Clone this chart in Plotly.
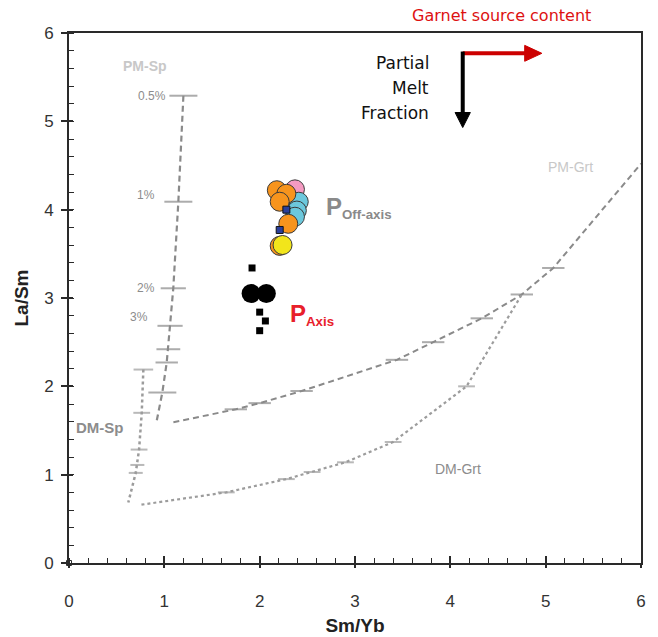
import plotly.graph_objects as go

# ---------------- data ----------------
# melting model curves (Sm/Yb, La/Sm)
pm_sp_x = [1.20, 1.147, 1.094, 1.06, 1.042, 1.025, 0.979, 0.92]
pm_sp_y = [5.29, 4.09, 3.11, 2.685, 2.42, 2.27, 1.93, 1.61]
pm_sp_pct = ["0.5%", "1%", "2%", "3%"]

dm_sp_x = [0.78, 0.763, 0.735, 0.717, 0.70, 0.622]
dm_sp_y = [2.19, 1.70, 1.284, 1.11, 1.02, 0.685]

pm_grt_x = [1.095, 1.75, 2.0, 2.44, 3.44, 3.82, 4.33, 4.75, 5.08, 6.0]
pm_grt_y = [1.594, 1.74, 1.81, 1.947, 2.30, 2.50, 2.77, 3.04, 3.34, 4.52]

dm_grt_x = [0.76, 1.65, 2.28, 2.55, 2.90, 3.40, 4.17, 4.75]
dm_grt_y = [0.66, 0.80, 0.95, 1.03, 1.14, 1.37, 2.00, 3.04]

# off-axis samples
off_pink_x = [2.37]
off_pink_y = [4.23]
off_blue_x = [2.41, 2.39, 2.37]
off_blue_y = [4.09, 3.99, 3.92]
off_orange_x = [2.18, 2.28, 2.21, 2.30, 2.21]
off_orange_y = [4.22, 4.18, 4.09, 3.84, 3.59]
off_yellow_x = [2.24]
off_yellow_y = [3.60]
off_sq_x = [2.28, 2.21]
off_sq_y = [4.00, 3.77]

# axis samples
axis_circ_x = [1.91, 2.07]
axis_circ_y = [3.05, 3.05]
axis_sq_x = [1.92, 2.00, 2.06, 2.00]
axis_sq_y = [3.34, 2.84, 2.74, 2.63]

x_ticks = [0, 1, 2, 3, 4, 5, 6]
y_ticks = [0, 1, 2, 3, 4, 5, 6]

# ---------------- figure ----------------
DASH_C = "#8a8a8a"
DOT_C = "#9c9c9c"
AX_C = "#2a2a2a"
NARROW = "Liberation Sans Narrow, Arial Narrow, Liberation Sans, Arial, sans-serif"
SANS = "Liberation Sans, Arial, sans-serif"
COMIC = "DejaVu Sans, sans-serif"

fig = go.Figure()


def curve(x, y, dash, color, width, sizes):
    return go.Scatter(
        x=x, y=y, mode="lines+markers",
        line=dict(color=color, width=width, dash=dash),
        marker=dict(symbol="line-ew", size=sizes, color=color,
                    line=dict(color=color, width=2)),
        showlegend=False, hoverinfo="skip",
    )


fig.add_trace(curve(pm_sp_x, pm_sp_y, "6px,4px", DASH_C, 2.2,
                    [20, 20, 18, 18, 17, 16, 20, 0]))
fig.add_trace(curve(dm_sp_x, dm_sp_y, "dot", DOT_C, 2.5,
                    [14, 12, 12, 10, 10, 0]))
fig.add_trace(curve(pm_grt_x, pm_grt_y, "6px,4px", DASH_C, 2.0,
                    [0] + [16] * (len(pm_grt_x) - 2) + [0]))
fig.add_trace(curve(dm_grt_x, dm_grt_y, "dot", DOT_C, 2.2,
                    [0] + [12] * (len(dm_grt_x) - 2) + [0]))

# tiny hollow square at origin
fig.add_trace(go.Scatter(x=[0], y=[0], mode="markers",
                         marker=dict(symbol="square-open", size=5, color=AX_C),
                         showlegend=False, hoverinfo="skip", cliponaxis=False))


def pts(x, y, color, size=19, symbol="circle", lc="#3a3a3a", lw=1):
    return go.Scatter(x=x, y=y, mode="markers",
                      marker=dict(symbol=symbol, size=size, color=color,
                                  line=dict(color=lc, width=lw)),
                      showlegend=False, hoverinfo="skip")


fig.add_trace(pts(off_pink_x, off_pink_y, "#f49ac1"))
fig.add_trace(pts(off_blue_x, off_blue_y, "#6cc8dc"))
fig.add_trace(pts(off_orange_x, off_orange_y, "#f7941d"))
fig.add_trace(pts(off_yellow_x, off_yellow_y, "#f2e51b"))
fig.add_trace(pts(off_sq_x, off_sq_y, "#2a3f9a", size=7, symbol="square", lc="#111", lw=1))

fig.add_trace(pts(axis_circ_x, axis_circ_y, "#000000", size=19, lc="#000", lw=0))
fig.add_trace(pts(axis_sq_x, axis_sq_y, "#000000", size=7, symbol="square", lc="#000", lw=0))

# empty trace for overlay axes (inside major ticks)
fig.add_trace(go.Scatter(x=[], y=[], xaxis="x2", yaxis="y2", showlegend=False))

ann = []


def label(x, y, text, color, size, bold=False, xanchor="center", family=SANS):
    ann.append(dict(x=x, y=y, xref="x", yref="y", text=("<b>%s</b>" % text) if bold else text,
                    showarrow=False, xanchor=xanchor, yanchor="middle",
                    font=dict(family=family, size=size, color=color)))


label(0.80, 5.63, "PM-Sp", "#c8c8c8", 14, True)
label(0.33, 1.53, "DM-Sp", "#8c8c8c", 15, True)
label(5.26, 4.48, "PM-Grt", "#c8c8c8", 14, False)
label(4.08, 1.06, "DM-Grt", "#8c8c8c", 14, False)

pct_pos = [(0.868, 5.29), (0.81, 4.17), (0.81, 3.11), (0.738, 2.78)]
for (px, py), s in zip(pct_pos, pm_sp_pct):
    label(px, py, s, "#8c8c8c", 12)

ann.append(dict(x=2.67, y=4.03, xref="x", yref="y", xanchor="left", yanchor="middle",
                text="<b><span style='font-size:24px'>P</span><sub>Off-axis</sub></b>",
                showarrow=False, font=dict(family=SANS, size=19, color="#8a8a8a")))
ann.append(dict(x=2.30, y=2.81, xref="x", yref="y", xanchor="left", yanchor="middle",
                text="<b><span style='font-size:24px'>P</span><sub>Axis</sub></b>",
                showarrow=False, font=dict(family=SANS, size=19, color="#e8202a")))

for txt, yy in zip(["Partial", "Melt", "Fraction"], [5.66, 5.38, 5.10]):
    ann.append(dict(x=3.80, y=yy, xref="x", yref="y", xanchor="right", yanchor="middle",
                    showarrow=False, text=txt,
                    font=dict(family=COMIC, size=17, color="#111111")))
ann.append(dict(x=4.54, y=6.0, xref="x", yref="y", xanchor="center", yanchor="bottom",
                yshift=6, showarrow=False, text="Garnet source content",
                font=dict(family=COMIC, size=16, color="#dd1111")))

# arrows drawn as shapes (shaft + head)
shapes = [
    dict(type="line", xref="x", yref="y", x0=4.13, y0=5.77, x1=4.80, y1=5.77,
         line=dict(color="#cc0000", width=4)),
    dict(type="path", xref="x", yref="y",
         path="M 4.78 5.86 L 4.96 5.77 L 4.78 5.68 Z",
         fillcolor="#cc0000", line=dict(color="#cc0000", width=1)),
    dict(type="line", xref="x", yref="y", x0=4.13, y0=5.79, x1=4.13, y1=5.08,
         line=dict(color="#000000", width=4)),
    dict(type="path", xref="x", yref="y",
         path="M 4.05 5.10 L 4.13 4.93 L 4.21 5.10 Z",
         fillcolor="#000000", line=dict(color="#000000", width=1)),
]

fig.update_layout(
    width=658, height=637,
    margin=dict(l=69, r=17, t=33, b=74),
    paper_bgcolor="white", plot_bgcolor="white",
    annotations=ann, shapes=shapes,
    xaxis=dict(range=[0, 6], tickvals=x_ticks, showgrid=False, zeroline=False,
               automargin=False,
               showline=True, linecolor=AX_C, linewidth=2, mirror=True,
               ticks="outside", ticklen=3, tickwidth=1.5, tickcolor=AX_C,
               minor=dict(dtick=0.2, ticks="inside", ticklen=5, tickwidth=1.3, tickcolor=AX_C),
               tickfont=dict(family=NARROW, size=17, color="#333"),
               ticklabelstandoff=19,
               title=dict(text="<b>Sm/Yb</b>", font=dict(family=NARROW, size=19, color="#222"),
                          standoff=8)),
    yaxis=dict(range=[0, 6], tickvals=y_ticks, showgrid=False, zeroline=False,
               automargin=False,
               showline=True, linecolor=AX_C, linewidth=2, mirror=True,
               ticks="outside", ticklen=6, tickwidth=1.5, tickcolor=AX_C,
               minor=dict(dtick=0.2, ticks="inside", ticklen=5, tickwidth=1.3, tickcolor=AX_C),
               tickfont=dict(family=NARROW, size=17, color="#333"),
               ticklabelstandoff=4,
               title=dict(text="<b>La/Sm</b>", font=dict(family=NARROW, size=19, color="#222"),
                          standoff=10)),
    xaxis2=dict(range=[0, 6], tickvals=x_ticks, overlaying="x", anchor="y", side="bottom",
                automargin=False,
                showgrid=False, zeroline=False, showline=False, showticklabels=False,
                ticks="inside", ticklen=7, tickwidth=1.5, tickcolor=AX_C),
    yaxis2=dict(range=[0, 6], tickvals=y_ticks, overlaying="y", anchor="x", side="left",
                automargin=False,
                showgrid=False, zeroline=False, showline=False, showticklabels=False,
                ticks="inside", ticklen=4, tickwidth=1.5, tickcolor=AX_C),
)

fig.write_html("out.html")
